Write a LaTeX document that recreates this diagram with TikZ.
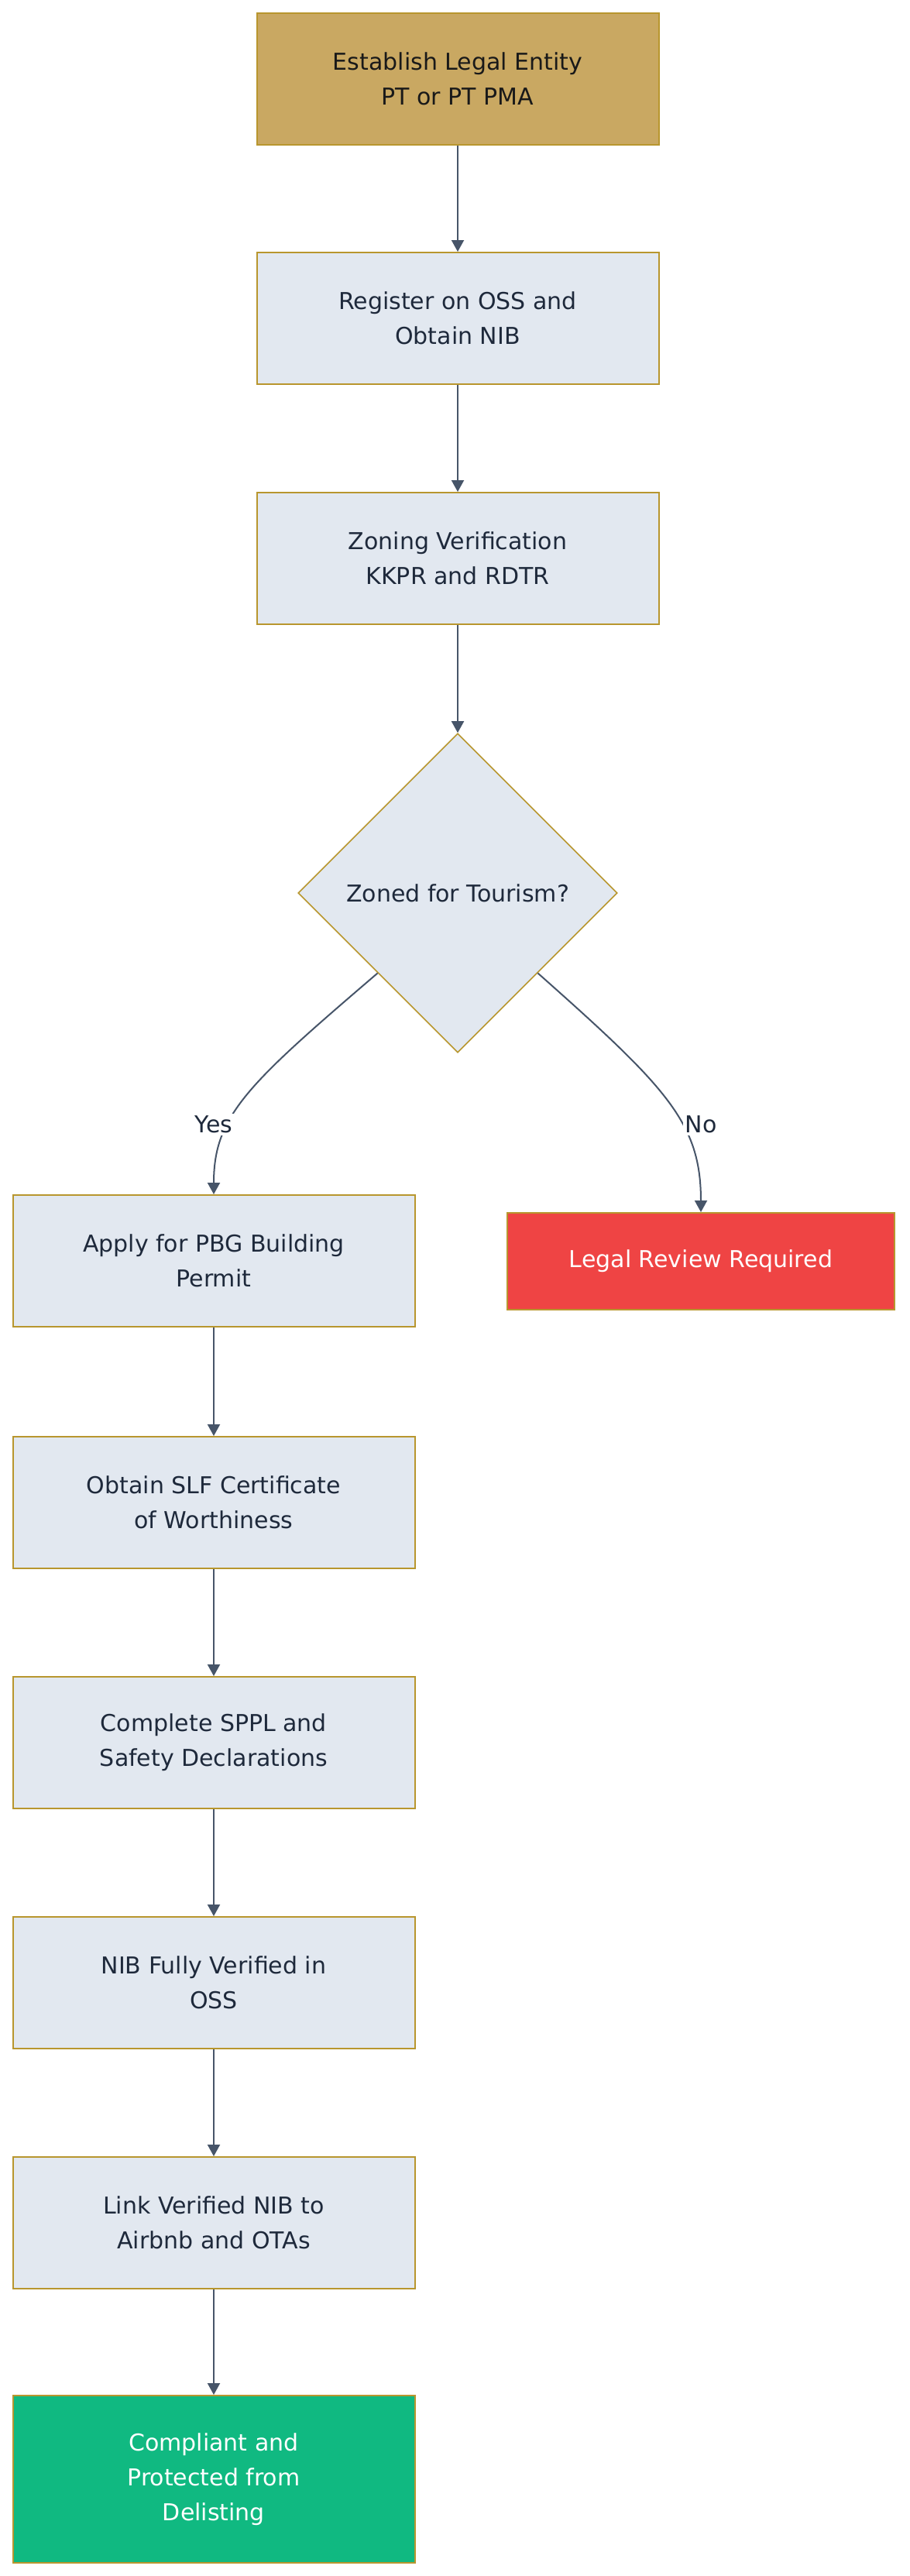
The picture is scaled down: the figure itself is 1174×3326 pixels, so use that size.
\documentclass[tikz,border=0pt]{standalone}
\usepackage{fontspec}
\setmainfont{DejaVu Sans}
\usetikzlibrary{shapes.geometric,arrows.meta}
\definecolor{goldline}{HTML}{B8962E}
\definecolor{goldfill}{HTML}{C9A862}
\definecolor{stepfill}{HTML}{E2E8F0}
\definecolor{steptext}{HTML}{1E293B}
\definecolor{edgecol}{HTML}{475569}
\definecolor{redfill}{HTML}{EF4444}
\definecolor{greenfill}{HTML}{10B981}
\tikzset{
  stepbox/.style={rectangle, draw=goldline, line width=1pt, fill=stepfill, text=steptext,
    minimum width=259.5pt, minimum height=85pt, align=center, inner sep=0pt,
    font=\fontsize{15pt}{22.5pt}\selectfont},
  startbox/.style={stepbox, fill=goldfill, text=black!90},
  redbox/.style={stepbox, fill=redfill, text=white, minimum width=250pt, minimum height=62.5pt},
  greenbox/.style={stepbox, fill=greenfill, text=white, minimum height=108pt},
  decision/.style={diamond, aspect=1, draw=goldline, line width=0.8pt, fill=stepfill, text=steptext,
    minimum size=206pt, inner sep=0pt, align=center, font=\fontsize{15pt}{22.5pt}\selectfont},
  flow/.style={draw=edgecol, line width=1pt, -{Triangle[length=7.5pt,width=8pt]}},
  elabel/.style={fill=white, text=steptext, inner sep=1.5pt, font=\fontsize{15pt}{18pt}\selectfont}
}
\begin{document}
\begin{tikzpicture}[x=0.5pt,y=-0.5pt]
\useasboundingbox[fill=white] (0,0) rectangle (1174,3326);
\node[startbox] (n1) at (591,102) {Establish Legal Entity\\PT or PT PMA};
\node[stepbox] (n2) at (591,411) {Register on OSS and\\Obtain NIB};
\node[stepbox] (n3) at (591,721) {Zoning Verification\\KKPR and RDTR};
\node[decision] (dia) at (591,1153) {Zoned for Tourism?};
\node[stepbox] (apply) at (276,1628) {Apply for PBG Building\\Permit};
\node[redbox] (legal) at (905,1628.5) {Legal Review Required};
\node[stepbox] (slf) at (276,1940) {Obtain SLF Certificate\\of Worthiness};
\node[stepbox] (sppl) at (276,2250) {Complete SPPL and\\Safety Declarations};
\node[stepbox] (nib) at (276,2560) {NIB Fully Verified in\\OSS};
\node[stepbox] (link) at (276,2870) {Link Verified NIB to\\Airbnb and OTAs};
\node[greenbox] (done) at (276,3201) {Compliant and\\Protected from\\Delisting};

\draw[flow] (n1) -- (n2);
\draw[flow] (n2) -- (n3);
\draw[flow] (n3) -- (dia);
\draw[flow] (dia.south west) .. controls (320,1400) and (276,1440) .. (apply.north);
\draw[flow] (dia.south east) .. controls (862,1405) and (905,1450) .. (legal.north);
\node[elabel] (yes) at (276,1452) {Yes};
\node[elabel] (no) at (905,1452) {No};
\draw[flow] (apply) -- (slf);
\draw[flow] (slf) -- (sppl);
\draw[flow] (sppl) -- (nib);
\draw[flow] (nib) -- (link);
\draw[flow] (link) -- (done);
\end{tikzpicture}
\end{document}
